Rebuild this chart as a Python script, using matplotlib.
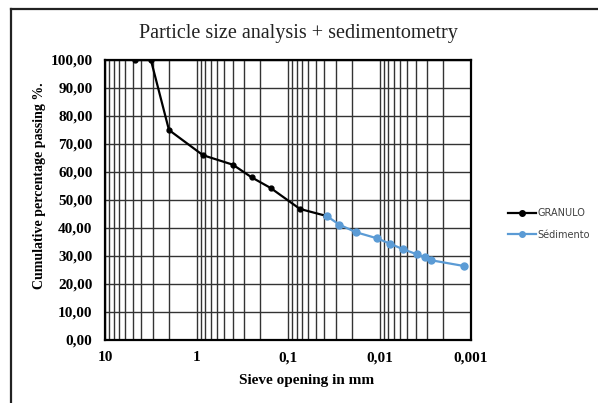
import numpy as np
import matplotlib
matplotlib.use("Agg")
import matplotlib.pyplot as plt
from matplotlib.lines import Line2D
from matplotlib.ticker import FixedLocator, LogLocator, NullFormatter

# sieve analysis (mm, % passing)
granulo_d = [4.75, 3.15, 2.0, 0.85, 0.4, 0.25, 0.155, 0.074, 0.038]
granulo_p = [100.0, 100.0, 75.0, 66.0, 62.6, 58.1, 54.3, 46.8, 44.3]

# sedimentometry
sedi_d = [0.0378, 0.0275, 0.0181, 0.0106, 0.0077, 0.0055, 0.0039, 0.0032, 0.00275, 0.00118]
sedi_p = [44.3, 41.2, 38.5, 36.3, 34.4, 32.4, 30.6, 29.5, 28.5, 26.4]

x_ticks = [10, 1, 0.1, 0.01, 0.001]
x_ticklabels = ["10", "1", "0,1", "0,01", "0,001"]
y_ticks = list(range(0, 101, 10))
y_ticklabels = [f"{v:.2f}".replace(".", ",") for v in y_ticks]

serif = "Liberation Serif"

fig = plt.figure(figsize=(5.98, 4.03), dpi=100)
W, H = 598, 403
ax = fig.add_axes([105 / W, 1 - 340 / H, 366 / W, 280 / H])

ax.plot(granulo_d, granulo_p, color="black", lw=1.6, marker="o", ms=3.5,
        label="GRANULO", zorder=4)
ax.plot(sedi_d, sedi_p, color="#5B9BD5", lw=1.6, marker="o", ms=5,
        label="Sédimento", zorder=5)

ax.set_xscale("log")
ax.set_xlim(10, 0.001)
ax.set_ylim(0, 100)

ax.xaxis.set_major_locator(FixedLocator(x_ticks))
ax.set_xticklabels(x_ticklabels, fontfamily=serif, fontweight="bold", fontsize=11)
ax.xaxis.set_minor_locator(LogLocator(base=10, subs=np.arange(2, 10)))
ax.xaxis.set_minor_formatter(NullFormatter())
ax.set_yticks(y_ticks)
ax.set_yticklabels(y_ticklabels, fontfamily=serif, fontweight="bold", fontsize=11)
ax.tick_params(which="both", length=0)
ax.tick_params(axis="y", pad=9)
ax.tick_params(axis="x", pad=8)

ax.grid(True, which="major", color="#333333", lw=1.0)
ax.grid(True, which="minor", axis="x", color="#333333", lw=1.0)
ax.set_axisbelow(True)
for s in ax.spines.values():
    s.set_linewidth(1.6)
    s.set_color("black")

ax.set_title("Particle size analysis + sedimentometry", fontfamily=serif,
             fontsize=14.5, color="#222222", pad=16, x=0.529)
ax.set_xlabel("Sieve opening in mm", fontfamily=serif, fontweight="bold", fontsize=11)
ax.xaxis.set_label_coords(0.552, -0.122)
ax.set_ylabel("Cumulative percentage passing %.", fontfamily=serif,
              fontweight="bold", fontsize=10)
ax.yaxis.set_label_coords(-0.16, 0.55)

leg = fig.legend(loc="upper left", bbox_to_anchor=(505 / W, 1 - 205 / H),
                 frameon=False, fontsize=7, handlelength=2.9,
                 handletextpad=0.1, labelspacing=1.2, labelcolor="#404040",
                 borderaxespad=0, borderpad=0.3)
for h in leg.legend_handles:
    h.set_markersize(4)

# outer frame of the figure (partly cropped)
fig.add_artist(Line2D([11 / W, 11 / W], [1 - 9 / H, 0], transform=fig.transFigure,
                      color="#222222", lw=1.6))
fig.add_artist(Line2D([11 / W, 1], [1 - 9 / H, 1 - 9 / H], transform=fig.transFigure,
                      color="#222222", lw=1.6))
fig.text(0, 1 + 7 / H, "y (Fig. 2).", fontfamily=serif, fontsize=13,
         color="#444444", va="baseline")

fig.savefig("out.png", dpi=100)
